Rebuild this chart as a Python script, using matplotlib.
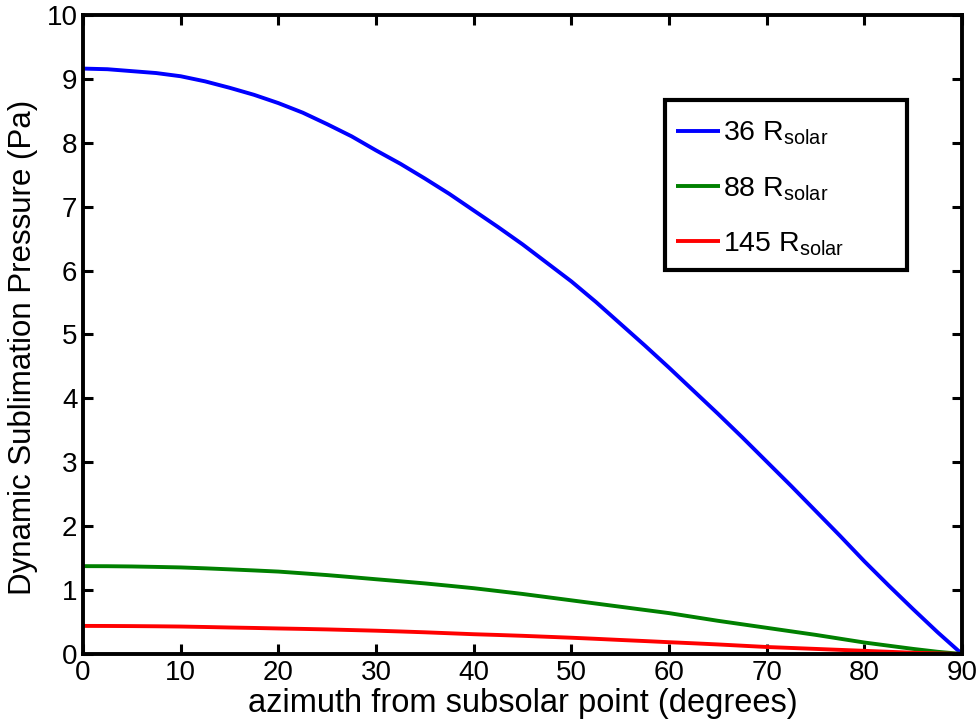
import matplotlib
matplotlib.use("Agg")
import matplotlib.pyplot as plt
from matplotlib.patches import Rectangle

plt.rcParams['font.family'] = ['Liberation Sans', 'DejaVu Sans']
plt.rcParams['mathtext.default'] = 'regular'

# azimuth from the subsolar point (degrees)
azimuth = [0, 2.5, 5, 7.5, 10, 12.5, 15, 17.5, 20, 22.5, 25, 27.5, 30, 32.5, 35,
           37.5, 40, 42.5, 45, 47.5, 50, 52.5, 55, 57.5, 60, 62.5, 65, 67.5, 70,
           72.5, 75, 77.5, 80, 82.5, 85, 87.5, 90]

# dynamic sublimation pressure (Pa) at three heliocentric distances
p_36 = [9.16, 9.15, 9.12, 9.09, 9.04, 8.96, 8.86, 8.75, 8.62, 8.47, 8.29, 8.10,
        7.88, 7.67, 7.44, 7.20, 6.94, 6.68, 6.41, 6.12, 5.83, 5.51, 5.17, 4.83,
        4.48, 4.12, 3.76, 3.39, 3.01, 2.63, 2.24, 1.85, 1.45, 1.07, 0.70, 0.34,
        0.0]
p_88 = [1.375, 1.374, 1.37, 1.363, 1.355, 1.341, 1.325, 1.308, 1.29, 1.263,
        1.235, 1.203, 1.17, 1.138, 1.105, 1.068, 1.03, 0.985, 0.94, 0.89, 0.84,
        0.79, 0.74, 0.69, 0.64, 0.58, 0.52, 0.465, 0.41, 0.355, 0.30, 0.24,
        0.18, 0.13, 0.08, 0.035, 0.0]
p_145 = [0.44, 0.439, 0.437, 0.434, 0.43, 0.423, 0.415, 0.408, 0.40, 0.393,
         0.385, 0.375, 0.365, 0.353, 0.34, 0.325, 0.31, 0.298, 0.285, 0.27,
         0.255, 0.238, 0.22, 0.203, 0.185, 0.168, 0.15, 0.13, 0.11, 0.095,
         0.08, 0.065, 0.05, 0.035, 0.02, 0.01, 0.0]

labels = [r'36 R$_{solar}$', r'88 R$_{solar}$', r'145 R$_{solar}$']
colors = ['#0000ff', '#008000', '#ff0000']

xticks = [0, 10, 20, 30, 40, 50, 60, 70, 80, 90]
yticks = [0, 1, 2, 3, 4, 5, 6, 7, 8, 9, 10]

fig = plt.figure(figsize=(9.8, 7.23), dpi=100)
ax = fig.add_axes([0.0847, 0.0954, 0.897, 0.884])

for series, lab, col in zip([p_36, p_88, p_145], labels, colors):
    ax.plot(azimuth, series, color=col, lw=2.8, label=lab, solid_capstyle='butt')

ax.set_xlim(0, 90)
ax.set_ylim(0, 10)
ax.set_xticks(xticks)
ax.set_yticks(yticks)
ax.tick_params(direction='in', top=True, right=True, length=7, width=2.2,
               labelsize=20, pad=4)
for sp in ax.spines.values():
    sp.set_linewidth(2.8)

ax.set_xlabel('azimuth from subsolar point (degrees)', fontsize=23.5, labelpad=2)
ax.set_ylabel('Dynamic Sublimation Pressure (Pa)', fontsize=22.5, labelpad=6)
ax.yaxis.label.set_y(0.48)

# legend box with a fixed outline, entries placed inside it
ax.add_patch(Rectangle((0.662, 0.601), 0.2755, 0.266, transform=ax.transAxes,
                       facecolor='white', edgecolor='black', lw=3, zorder=4))
leg = ax.legend(loc='upper left', bbox_to_anchor=(0.6746, 0.8357), fontsize=20.5,
                frameon=False, handlelength=1.55, handletextpad=0.1,
                labelspacing=0.975, borderpad=0, borderaxespad=0)
leg.set_zorder(5)

fig.savefig('out.png', dpi=100)
